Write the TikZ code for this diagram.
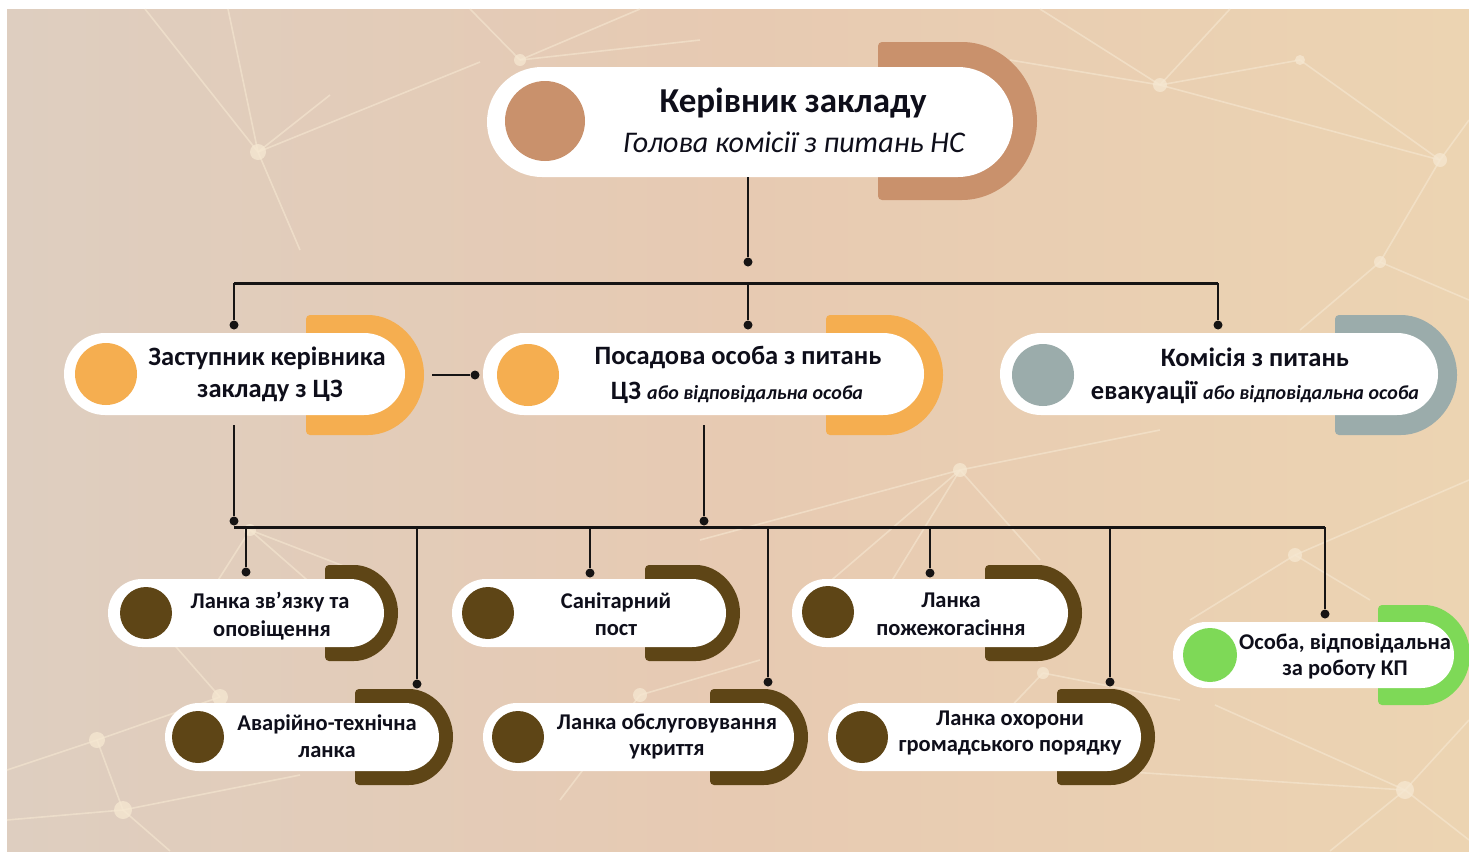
\documentclass[tikz,border=0pt]{standalone}
\usepackage{fontspec}
\setmainfont{Carlito}
\usetikzlibrary{shapes.misc}
\definecolor{bgL}{RGB}{222,206,192}
\definecolor{bgM}{RGB}{231,202,178}
\definecolor{bgR}{RGB}{236,212,178}
\definecolor{netc}{RGB}{246,232,210}
\definecolor{topc}{RGB}{201,145,108}
\definecolor{orc}{RGB}{245,174,80}
\definecolor{grc}{RGB}{155,172,171}
\definecolor{brc}{RGB}{94,69,22}
\definecolor{gnc}{RGB}{126,217,87}
\definecolor{linec}{RGB}{22,20,20}
\definecolor{txtc}{RGB}{14,14,26}
\newcommand\dshape[5]{% dl, dx, cy, R, colour
  \fill[#5,rounded corners=4pt] (#1,#3-#4) -- (#2,#3-#4) arc[start angle=90,end angle=-90,radius=#4pt] -- (#1,#3+#4) -- cycle;}
\newcommand\smallitf{\fontsize{20}{22}\selectfont\bfseries\itshape}
\tikzset{
  pill/.style={rounded rectangle, fill=white, inner sep=0pt, draw=none},
  disc/.style={circle, inner sep=0pt, draw=none},
  conn/.style={draw=linec, line width=2pt},
  bus/.style={draw=linec, line width=3pt},
  dotn/.style={circle, fill=linec, inner sep=0pt, minimum size=9pt},
  net/.style={draw=netc, line width=1.6pt, opacity=0.6},
  netdot/.style={fill=netc, opacity=0.75},
  ttl/.style={text=txtc, inner sep=0pt, font=\fontsize{35}{40}\selectfont\bfseries},
  sub/.style={text=txtc, inner sep=0pt, font=\fontsize{30}{34}\selectfont\itshape},
  lvtwo/.style={text=txtc, inner sep=0pt, font=\fontsize{26.5}{30}\selectfont\bfseries},
  lvthree/.style={text=txtc, inner sep=0pt, font=\fontsize{22.5}{26}\selectfont\bfseries}
}
\begin{document}
\begin{tikzpicture}[x=1pt,y=-1pt]
\useasboundingbox (0,0) rectangle (1469,857);
\fill[white] (0,0) rectangle (1469,857);
\shade[left color=bgL, right color=bgR, middle color=bgM] (7,9) rectangle (1469,851);
% background network
\foreach \xa/\ya/\xb/\yb in {
  145/9/258/152, 228/9/258/152, 258/152/330/95, 258/152/480/62, 258/152/300/250,
  470/9/520/60, 640/9/520/60, 520/60/700/40,
  1040/9/1160/85, 1230/9/1160/85, 1160/85/1300/60, 1160/85/1440/160, 1160/85/1010/60,
  1440/160/1469/120, 1440/160/1380/262, 1300/60/1440/160, 1380/262/1300/330, 1380/262/1469/300,
  960/470/820/590, 960/470/880/600, 960/470/1040/560, 960/470/700/540, 960/470/1160/430,
  250/530/330/600, 250/530/380/580, 250/530/180/640,
  1295/555/1469/480, 1295/555/1190/620, 1295/555/1370/600,
  1405/790/1215/705, 1405/790/1469/720, 1405/790/1469/840, 1405/790/1330/851, 1405/790/1100/770,
  97/740/220/697, 97/740/123/810, 7/770/97/740, 123/810/300/775, 123/810/170/851, 7/820/123/810,
  220/697/170/640, 640/695/560/800, 640/695/760/660, 1043/673/1180/700, 1043/673/960/760}
{ \draw[net] (\xa,\ya) -- (\xb,\yb); }
\foreach \px/\py/\pr in {258/152/8, 520/60/6, 1160/85/7, 1440/160/7, 1380/262/6, 960/470/7,
  250/530/6, 1295/555/7, 1405/790/9, 97/740/8, 123/810/9, 220/697/8, 640/695/7, 1043/673/6, 1300/60/5}
{ \fill[netdot] (\px,\py) circle[radius=\pr pt]; }

% ---------- top node ----------
\dshape{878}{958}{121}{79}{topc}
\node[pill, minimum width=526pt, minimum height=110pt] (top) at (750,122) {};
\node[disc, fill=topc, minimum size=80pt] (topdisc) at (545,121) {};
\node[ttl] (topT1) at (793,103) {Керівник закладу};
\node[sub] (topT2) at (794,142) {Голова комісії з питань НС};

% ---------- level 2 ----------
\dshape{306}{364}{375}{60}{orc}
\node[pill, minimum width=341pt, minimum height=82pt] (A) at (234.5,374) {};
\node[disc, fill=orc, minimum size=62pt] (Adisc) at (106,374) {};
\node[lvtwo] (AT1) at (267,358) {Заступник керівника};
\node[lvtwo] (AT2) at (270,391) {закладу з ЦЗ};

\dshape{826}{883}{375}{60}{orc}
\node[pill, minimum width=441pt, minimum height=82pt] (B) at (703.5,374) {};
\node[disc, fill=orc, minimum size=62pt] (Bdisc) at (528,375) {};
\node[lvtwo] (BT1) at (738,357) {Посадова особа з питань};
\node[lvtwo, anchor=base] (BT2) at (737,399) {ЦЗ {\smallitf або відповідальна особа}};

\dshape{1335}{1397}{375}{60}{grc}
\node[pill, minimum width=438pt, minimum height=82pt] (C) at (1219,374) {};
\node[disc, fill=grc, minimum size=62pt] (Cdisc) at (1043,375) {};
\node[lvtwo] (CT1) at (1255,357) {Комісія з питань};
\node[lvtwo, anchor=base] (CT2) at (1255,399) {евакуації {\smallitf або відповідальна особа}};

% ---------- level 3 ----------
\dshape{325}{350}{613}{48}{brc}
\node[pill, minimum width=276pt, minimum height=68pt] (L1) at (246,613) {};
\node[disc, fill=brc, minimum size=52pt] (L1disc) at (146,613) {};
\node[lvthree] (L1T1) at (270,602) {Ланка зв’язку та};
\node[lvthree] (L1T2) at (272,630) {оповіщення};

\dshape{355}{405}{737}{48}{brc}
\node[pill, minimum width=274pt, minimum height=68pt] (L2) at (302,737) {};
\node[disc, fill=brc, minimum size=52pt] (L2disc) at (198,737) {};
\node[lvthree] (L2T1) at (327,724) {Аварійно-технічна};
\node[lvthree] (L2T2) at (327,752) {ланка};

\dshape{645}{692}{613}{48}{brc}
\node[pill, minimum width=274pt, minimum height=68pt] (L3) at (589,613) {};
\node[disc, fill=brc, minimum size=52pt] (L3disc) at (488,613) {};
\node[lvthree] (L3T1) at (616,602) {Санітарний};
\node[lvthree] (L3T2) at (616,630) {пост};

\dshape{710}{760}{737}{48}{brc}
\node[pill, minimum width=311pt, minimum height=68pt] (L4) at (638.5,737) {};
\node[disc, fill=brc, minimum size=52pt] (L4disc) at (518,737) {};
\node[lvthree] (L4T1) at (667,724) {Ланка обслуговування};
\node[lvthree] (L4T2) at (667,752) {укриття};

\dshape{985}{1034}{613}{48}{brc}
\node[pill, minimum width=276pt, minimum height=68pt] (L5) at (930,613) {};
\node[disc, fill=brc, minimum size=52pt] (L5disc) at (828,612) {};
\node[lvthree] (L5T1) at (951,600) {Ланка};
\node[lvthree] (L5T2) at (951,628) {пожежогасіння};

\dshape{1057}{1107}{737}{48}{brc}
\node[pill, minimum width=313pt, minimum height=68pt] (L6) at (984.5,737) {};
\node[disc, fill=brc, minimum size=52pt] (L6disc) at (862,737) {};
\node[lvthree] (L6T1) at (1010,720) {Ланка охорони};
\node[lvthree] (L6T2) at (1010,748) {громадського порядку};

\dshape{1378}{1420}{655}{50}{gnc}
\node[pill, minimum width=281pt, minimum height=66pt] (L7) at (1313.5,655) {};
\node[disc, fill=gnc, minimum size=54pt] (L7disc) at (1210,655) {};
\node[lvthree] (L7T1) at (1345,643) {Особа, відповідальна};
\node[lvthree] (L7T2) at (1345,670) {за роботу КП};

% ---------- connectors ----------
\node[dotn] (d0) at (748,262) {};
\draw[conn] (top.south -| d0) -- (d0);
\coordinate (b1L) at (234,283);
\coordinate (b1R) at (1218,283);
\draw[bus] (b1L) -- (b1R);
\node[dotn] (d1a) at (234,325) {};
\node[dotn] (d1b) at (748,325) {};
\node[dotn] (d1c) at (1218,325) {};
\draw[conn] (b1L) -- (d1a);
\draw[conn] (d1b |- b1L) -- (d1b);
\draw[conn] (b1R) -- (d1c);

\coordinate (ab0) at (432,375);
\node[dotn] (dab) at (475,375) {};
\draw[conn] (ab0) -- (dab);

\coordinate (a0) at (234,425);
\coordinate (bb0) at (704,425);
\node[dotn] (d2a) at (234,521) {};
\node[dotn] (d2b) at (704,521) {};
\draw[conn] (a0) -- (d2a);
\draw[conn] (bb0) -- (d2b);

\coordinate (b2L) at (234,527);
\coordinate (b2R) at (1325,527);
\draw[bus] (b2L) -- (b2R);
\node[dotn] (e1) at (246,572) {};
\node[dotn] (e2) at (417,684) {};
\node[dotn] (e3) at (590,573) {};
\node[dotn] (e4) at (768,682) {};
\node[dotn] (e5) at (930,573) {};
\node[dotn] (e6) at (1110,682) {};
\node[dotn] (e7) at (1325,614) {};
\foreach \e in {e1,e2,e3,e4,e5,e6} { \draw[conn] (\e |- b2L) -- (\e); }
\draw[conn] (b2R) -- (e7);
\end{tikzpicture}
\end{document}
